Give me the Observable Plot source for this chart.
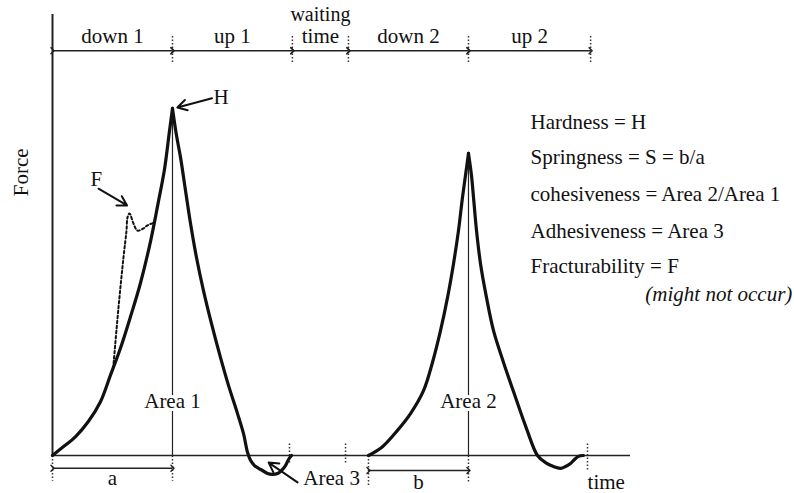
<!DOCTYPE html>
<html><head><meta charset="utf-8">
<script src="https://cdn.jsdelivr.net/npm/d3@7"></script>
<script src="https://cdn.jsdelivr.net/npm/@observablehq/plot@0.6"></script>
<style>body{margin:0;background:#fff}#chart svg{display:block}#chart svg text{font-family:"Liberation Serif","Times New Roman",serif}</style>
</head><body><div id="chart"></div>
<script>
// ---- data (time and force in arbitrary units) ----
const rise1Time  = [0, 1.7, 4.0, 6.2, 8.3, 10.0, 11.8, 13.5, 15.2, 17.0, 18.3, 19.4, 20.2, 20.76];
const rise1Force = [0, 1.8, 4.3, 7.7, 12.2, 18.1, 24.5, 31.5, 39.0, 48.8, 57.4, 65.1, 73.2, 78.7];
const fall1Time  = [20.76, 21.45, 22.15, 23.01, 23.88, 24.91, 26.12, 27.51, 29.07, 30.45, 32.01, 33.04, 33.74, 34.26, 34.95, 35.64, 36.33, 37.2, 38.06, 38.93, 39.62, 40.31, 40.83, 41.35];
const fall1Force = [78.7, 72.6, 67.6, 60.1, 52.6, 44.9, 37.4, 29.9, 22.2, 15.9, 9.5, 5.0, 0.7, -1.1, -2.3, -2.9, -3.4, -4.1, -4.3, -4.1, -3.4, -2.3, -0.9, 0];
const rise2Time  = [54.67, 57.09, 59.69, 61.94, 64.19, 65.74, 67.13, 68.34, 69.38, 70.24, 70.93, 71.45, 71.97];
const rise2Force = [0, 2.0, 5.7, 9.5, 14.7, 21.1, 28.3, 35.8, 43.5, 51.0, 58.5, 63.5, 68.5];
const fall2Time  = [71.97, 72.49, 72.84, 73.36, 74.05, 75.09, 76.3, 78.03, 80.1, 82.01, 83.91, 85.29, 86.68, 87.89, 88.75, 89.62, 90.31, 91.0, 91.87];
const fall2Force = [68.5, 63.5, 58.5, 51.0, 43.5, 35.8, 28.3, 21.1, 13.2, 6.1, 0, -1.6, -2.5, -2.9, -2.5, -1.8, -0.9, -0.2, 0];
const fractureTime  = [10.5, 11.42, 12.28, 12.8, 12.98, 13.32, 14.01, 14.71, 15.74, 16.44, 17.6];
const fractureForce = [19.8, 33.6, 44.9, 51.0, 54.0, 54.9, 52.6, 51.0, 51.5, 52.2, 52.8];

const peakTime  = [20.76, 71.97];
const peakForce = [78.7, 68.5];
const peakLabels = ["Area 1", "Area 2"];

const phaseNames = ["down 1", "up 1", "time", "down 2", "up 2"];
const phaseStart = [0, 20.76, 41.5, 51.2, 71.97];
const phaseEnd   = [20.76, 41.5, 51.2, 71.97, 93.1];

const markTime = [0, 20.76, 41.0, 50.7, 54.67, 71.97, 92.56];
const markTop  = [0, 0, 2.7, 2.7, 0, 0, 2.7];
const markBot  = [-5.7, -5.7, -1.8, -1.8, -6.8, -6.1, -3.4];

const spanLabels = ["a", "b"];
const spanStart  = [0, 54.67];
const spanEnd    = [20.76, 71.97];

const formulas = ["Hardness = H", "Springness = S = b/a", "cohesiveness = Area 2/Area 1", "Adhesiveness = Area 3", "Fracturability = F"];

// ---- build tables ----
const segs = [[rise1Time, rise1Force], [fall1Time, fall1Force], [rise2Time, rise2Force], [fall2Time, fall2Force]];
const curve = segs.flatMap(([t, f], s) => t.map((v, i) => ({seg: s, time: v, force: f[i]})));
const fracture = fractureTime.map((v, i) => ({time: v, force: fractureForce[i]}));
const phases = phaseNames.map((n, i) => ({name: n, x1: phaseStart[i], x2: phaseEnd[i], mid: (phaseStart[i] + phaseEnd[i]) / 2}));
const marks = markTime.map((t, i) => ({t, y1: markTop[i], y2: markBot[i]}));
const spans = spanLabels.map((n, i) => ({name: n, x1: spanStart[i], x2: spanEnd[i], y: [-2.9, -3.4][i], ly: [-6.8, -7.7][i]}));
const peaks = peakTime.map((t, i) => ({t, f: peakForce[i], label: peakLabels[i]}));
const formulaRows = formulas.map((s, i) => ({s, y: [74.1, 66.2, 57.8, 49.4, 41.3][i]}));

const FS = 21;
const FF = "Liberation Serif";
const T = (o) => ({fontSize: FS, fontFamily: FF, fill: "#111", lineAnchor: "bottom", ...o});
const chart = Plot.plot({
  width: 794, height: 493,
  marginLeft: 52, marginRight: 164, marginTop: 14, marginBottom: 38,
  x: {domain: [0, 100], axis: null},
  y: {domain: [0, 100], axis: null},
  style: {fontFamily: FF, fontSize: FS + "px", background: "white", color: "black"},
  marks: [
    // axes lines
    Plot.ruleY([0], {x1: 0, x2: 100, strokeWidth: 1.5, stroke: "#222"}),
    Plot.ruleX([0], {y1: 0, y2: 100, strokeWidth: 2, stroke: "#222"}),
    // peak verticals
    Plot.ruleX(peaks, {x: "t", y1: 0, y2: "f", strokeWidth: 1.2, stroke: "#222"}),
    // top phase arrows
    Plot.link(phases, {x1: "x1", x2: "x2", y1: 91.8, y2: 91.8, stroke: "#222", strokeWidth: 1.5, markerStart: "arrow", markerEnd: "arrow"}),
    Plot.ruleX(phaseEnd, {y1: 89.1, y2: 95.2, stroke: "#333", strokeWidth: 1.5, strokeDasharray: "1.5,2"}),
    Plot.text(phases, T({x: "mid", y: 93.6, text: "name"})),
    Plot.text(["waiting"], T({x: (phaseStart[2] + phaseEnd[2]) / 2, y: 98.5, text: (d) => d, fontSize: 20})),
    // bottom dotted markers
    Plot.link(marks, {x1: "t", x2: "t", y1: "y1", y2: "y2", stroke: "#333", strokeWidth: 1.5, strokeDasharray: "1.5,2"}),
    // curves
    Plot.line(curve, {x: "time", y: "force", z: "seg", curve: "catmull-rom", stroke: "#111", strokeWidth: 3.2}),
    Plot.line(fracture, {x: "time", y: "force", curve: "catmull-rom", stroke: "#111", strokeWidth: 2, strokeDasharray: "2.5,2.5"}),
    // a / b spans
    Plot.link(spans, {x1: "x1", x2: "x2", y1: "y", y2: "y", stroke: "#222", strokeWidth: 1.5, markerStart: "arrow", markerEnd: "arrow"}),
    Plot.text(spans, T({x: (d) => (d.x1 + d.x2) / 2, y: "ly", text: "name"})),
    Plot.text(["time"], T({x: 95.8, y: -7.7, text: (d) => d})),
    // area labels
    Plot.text(peaks, T({x: "t", y: 10.8, text: "label", stroke: "white", strokeWidth: 6})),
    Plot.text(["Area 3"], T({x: 43.4, y: -6.8, text: (d) => d, textAnchor: "start"})),
    Plot.arrow(["Area 3"], {x1: 42.4, y1: -6.1, x2: 37.4, y2: -1.6, stroke: "#111", strokeWidth: 2, headLength: 8}),
    // H and F annotations
    Plot.text(["H"], T({x: 27.85, y: 79.6, text: (d) => d, textAnchor: "start"})),
    Plot.arrow(["H"], {x1: 27.6, y1: 81.0, x2: 21.6, y2: 78.9, stroke: "#111", strokeWidth: 2, headLength: 8}),
    Plot.text(["F"], T({x: 6.57, y: 61.2, text: (d) => d, textAnchor: "start"})),
    Plot.arrow(["F"], {x1: 7.96, y1: 60.5, x2: 12.9, y2: 56.7, stroke: "#111", strokeWidth: 2, headLength: 8}),
    // Force label
    Plot.text(["Force"], T({x: -5.36, y: 64.2, text: (d) => d, rotate: -90, lineAnchor: "middle"})),
    // formulas
    Plot.text(formulaRows, T({x: 82.7, y: "y", text: "s", textAnchor: "start"})),
    Plot.text(["(might not occur)"], T({x: 128, y: 35.1, text: (d) => d, textAnchor: "end", fontStyle: "italic"}))
  ]
});
document.getElementById("chart").appendChild(chart);
</script>
</body></html>
